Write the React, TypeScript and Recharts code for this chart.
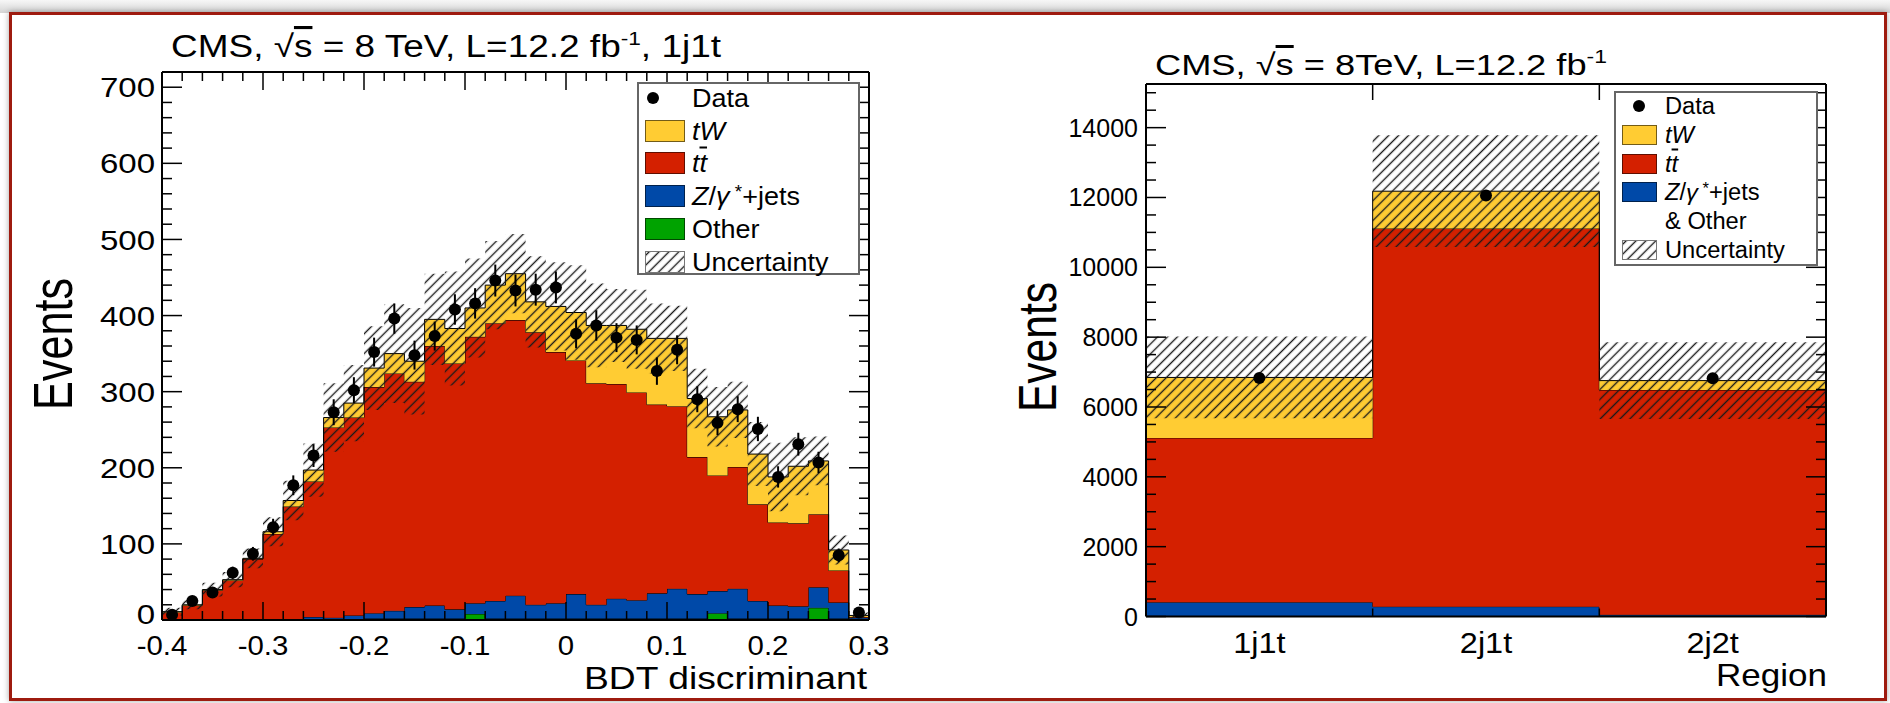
import React from "react";
import {
  ComposedChart,
  Area,
  Scatter,
  ErrorBar,
  XAxis,
  YAxis,
  Legend,
} from "recharts";

const FONT = "'Liberation Sans', Arial, Helvetica, sans-serif";

// BDT discriminant: 35 bins of width 0.02 (lower edges)
const bdtBinLow = [
  -0.4, -0.38, -0.36, -0.34, -0.32, -0.3, -0.28, -0.26, -0.24, -0.22, -0.2,
  -0.18, -0.16, -0.14, -0.12, -0.1, -0.08, -0.06, -0.04, -0.02, 0, 0.02, 0.04,
  0.06, 0.08, 0.1, 0.12, 0.14, 0.16, 0.18, 0.2, 0.22, 0.24, 0.26, 0.28,
];
const bdtBinWidth = 0.02;

// stacked MC, bottom to top
const bdtOther = [0, 0, 0, 0, 0, 0, 0, 1, 1, 1, 2, 2, 2, 2, 2, 8, 2, 2, 2, 2, 2, 2, 2, 2, 2, 2, 2, 9, 2, 2, 2, 2, 16, 2, 1];
const bdtZjets = [0, 0, 0, 0, 0, 0, 0, 3, 2, 5, 7, 10, 15, 17, 12, 14, 23, 30, 18, 20, 32, 18, 26, 24, 33, 39, 32, 29, 39, 23, 17, 16, 27, 21, 2];
const bdtTtbar = [10, 19, 39, 52, 80, 113, 149, 178, 250, 260, 297, 312, 296, 341, 323, 350, 365, 362, 358, 330, 307, 291, 282, 273, 248, 240, 180, 152, 160, 127, 109, 109, 96, 42, 1];
const bdtTW = [1, 1, 1, 1, 1, 3, 8, 15, 13, 19, 25, 26, 27, 35, 46, 38, 50, 61, 40, 60, 63, 76, 77, 83, 87, 89, 77, 77, 75, 66, 60, 75, 70, 27, 2];
// total uncertainty on the stack
const bdtSyst = [5, 6, 9, 10, 13, 19, 26, 35, 45, 50, 55, 65, 70, 60, 75, 65, 58, 52, 60, 58, 62, 55, 48, 52, 46, 43, 39, 39, 37, 42, 45, 38, 32, 19, 4];
// observed
const bdtData = [7, 25, 36, 62, 87, 122, 177, 216, 273, 302, 352, 396, 348, 373, 408, 416, 446, 433, 434, 437, 376, 387, 371, 368, 327, 355, 290, 259, 277, 251, 188, 231, 207, 85, 10];
const bdtDataErr = [3, 5, 6, 8, 9, 11, 13, 15, 17, 17, 19, 20, 19, 19, 20, 20, 21, 21, 21, 21, 19, 20, 19, 19, 18, 19, 17, 16, 17, 16, 14, 15, 14, 9, 3];

// yields per jet/tag region
const regions = ["1j1t", "2j1t", "2j2t"];
const regionZjetsOther = [410, 282, 50];
const regionTtbar = [4705, 10833, 6437];
const regionTW = [1731, 1065, 269];
const regionSyst = [1170, 1600, 1100];
const regionData = [6830, 12060, 6820];
const regionDataErr = [83, 110, 83];

const COLORS = {
  tw: "#ffcc33",
  tt: "#d42000",
  z: "#0049a8",
  other: "#00a300",
};

// ---- tables for the charts ----
const bdtRows = bdtBinLow.map((x, i) => {
  const total = bdtOther[i] + bdtZjets[i] + bdtTtbar[i] + bdtTW[i];
  return {
    x,
    other: bdtOther[i],
    z: bdtZjets[i],
    tt: bdtTtbar[i],
    tw: bdtTW[i],
    band: [total - bdtSyst[i], total + bdtSyst[i]],
  };
});
// closing edge so the last step is drawn
bdtRows.push({ ...bdtRows[bdtRows.length - 1], x: bdtBinLow[bdtBinLow.length - 1] + bdtBinWidth });

const bdtPoints = bdtBinLow.map((x, i) => ({
  x: x + bdtBinWidth / 2,
  y: bdtData[i],
  err: bdtDataErr[i],
}));

const regionRows = regions.map((_, i) => {
  const total = regionZjetsOther[i] + regionTtbar[i] + regionTW[i];
  return {
    x: i,
    z: regionZjetsOther[i],
    tt: regionTtbar[i],
    tw: regionTW[i],
    band: [total - regionSyst[i], total + regionSyst[i]],
  };
});
regionRows.push({ ...regionRows[regionRows.length - 1], x: regions.length });

const regionPoints = regions.map((_, i) => ({
  x: i + 0.5,
  y: regionData[i],
  err: regionDataErr[i],
}));

// axis tick positions
const bdtTicksX = Array.from({ length: 36 }, (_, k) => Math.round((-0.4 + 0.02 * k) * 100) / 100);
const bdtTicksY = Array.from({ length: 37 }, (_, k) => k * 20);
const regionTicksX = [0.5, 1, 1.5, 2, 2.5];
const regionTicksTop = [1, 2];
const regionTicksY = Array.from({ length: 31 }, (_, k) => k * 500);

const isTenth = (v: number) => Math.abs(v * 10 - Math.round(v * 10)) < 1e-6;
const fmtBdt = (v: number) => (Math.abs(v) < 1e-9 ? "0" : v.toFixed(1));

// ROOT style tick: drawn inward from the frame, label outside
function AxisTick(props: any) {
  const { x, y, payload, side, isMajor, majorLen, minorLen, format, gap = 8, fontSize = 27, stretch = 1, lift = 0 } = props;
  const v = payload.value;
  const major = isMajor(v);
  const len = major ? majorLen : minorLen;
  const text = format ? format(v, major) : null;
  let x2 = x;
  let y2 = y;
  if (side === "left") x2 = x + len;
  if (side === "right") x2 = x - len;
  if (side === "bottom") y2 = y - len;
  if (side === "top") y2 = y + len;
  const lx = side === "left" ? x - gap : x;
  // the label at the origin is lifted a little so it clears the x labels
  const ly = side === "left" ? y - (v === 0 ? lift : 0) : y + gap;
  return (
    <g>
      {len > 0 && <line x1={x} y1={y} x2={x2} y2={y2} stroke="#000" strokeWidth={1.5} />}
      {text != null && (
        <g transform={`translate(${lx},${ly}) scale(${stretch},1)`}>
          <text
            x={0}
            y={0}
            dy={side === "left" ? "0.36em" : 0}
            textAnchor={side === "left" ? "end" : "middle"}
            fontSize={fontSize}
            fontFamily={FONT}
            fill="#000"
          >
            {text}
          </text>
        </g>
      )}
    </g>
  );
}

const dotShape = (p: any) => <circle cx={p.cx} cy={p.cy} r={6} fill="#000" />;

function Hatch({ id }: { id: string }) {
  return (
    <pattern id={id} width={7} height={7} patternUnits="userSpaceOnUse" patternTransform="rotate(45)">
      <line x1={3.5} y1={0} x2={3.5} y2={7} stroke="#1a1a1a" strokeWidth={1.4} />
    </pattern>
  );
}

type Entry = { kind: "dot" | "fill" | "hatch" | "text"; color?: string; label: React.ReactNode };

function LegendPanel(props: {
  entries: Entry[];
  width: number;
  height: number;
  firstRow: number;
  rowStep: number;
  swatchX: number;
  swatchW: number;
  swatchH: number;
  dotX: number;
  textX: number;
  fontSize: number;
  stretch: number;
  hatchId: string;
}) {
  const { entries, width, height, firstRow, rowStep, swatchX, swatchW, swatchH, dotX, textX, fontSize, stretch, hatchId } = props;
  return (
    <div
      style={{
        position: "relative",
        width,
        height,
        boxSizing: "border-box",
        border: "2px solid #666",
        background: "#fff",
        fontFamily: FONT,
        fontSize,
        color: "#000",
      }}
    >
      {entries.map((e, i) => {
        const cy = firstRow + i * rowStep - 2;
        return (
          <React.Fragment key={i}>
            {e.kind === "dot" && (
              <div
                style={{
                  position: "absolute",
                  left: dotX - 8,
                  top: cy - 6,
                  width: 12,
                  height: 12,
                  borderRadius: "50%",
                  background: "#000",
                }}
              />
            )}
            {e.kind === "fill" && (
              <div
                style={{
                  position: "absolute",
                  left: swatchX - 2,
                  top: cy - swatchH / 2,
                  width: swatchW,
                  height: swatchH,
                  background: e.color,
                  border: "1px solid rgba(0,0,0,0.55)",
                  boxSizing: "border-box",
                }}
              />
            )}
            {e.kind === "hatch" && (
              <svg
                width={swatchW}
                height={swatchH}
                style={{ position: "absolute", left: swatchX - 2, top: cy - swatchH / 2 }}
              >
                <defs>
                  <Hatch id={hatchId} />
                </defs>
                <rect x={0.5} y={0.5} width={swatchW - 1} height={swatchH - 1} fill={`url(#${hatchId})`} stroke="#777" />
              </svg>
            )}
            <div
              style={{
                position: "absolute",
                left: textX - 2,
                top: cy,
                transform: `translateY(-50%) scaleX(${stretch})`,
                transformOrigin: "left center",
                lineHeight: 1,
                whiteSpace: "nowrap",
              }}
            >
              {e.label}
            </div>
          </React.Fragment>
        );
      })}
    </div>
  );
}

const ttLabel = (
  <>
    <i>t</i>
    <i style={{ textDecoration: "overline" }}>t</i>
  </>
);
const zLabel = (
  <>
    <i>Z</i>/<i>γ</i>
    <sup style={{ fontSize: "0.7em", verticalAlign: "0.4em" }}> *</sup>+jets
  </>
);

const bdtLegend: Entry[] = [
  { kind: "dot", label: "Data" },
  { kind: "fill", color: COLORS.tw, label: <i>tW</i> },
  { kind: "fill", color: COLORS.tt, label: ttLabel },
  { kind: "fill", color: COLORS.z, label: zLabel },
  { kind: "fill", color: COLORS.other, label: "Other" },
  { kind: "hatch", label: "Uncertainty" },
];

const regionLegend: Entry[] = [
  { kind: "dot", label: "Data" },
  { kind: "fill", color: COLORS.tw, label: <i>tW</i> },
  { kind: "fill", color: COLORS.tt, label: ttLabel },
  { kind: "fill", color: COLORS.z, label: zLabel },
  { kind: "text", label: "& Other" },
  { kind: "hatch", label: "Uncertainty" },
];

const frameLine = { stroke: "#000", strokeWidth: 2 };
const areaCommon = {
  type: "stepAfter" as const,
  stroke: "#000",
  strokeWidth: 1,
  fillOpacity: 1,
  dot: false,
  activeDot: false,
  isAnimationActive: false,
};

// axes take a little room (zero-sized axes are not drawn), margins compensate
function BdtPanel() {
  return (
    <ComposedChart width={945} height={703} data={bdtRows} margin={{ top: 71, left: 102, right: 75, bottom: 82 }}>
      <defs>
        <Hatch id="hatchBdt" />
      </defs>
      <XAxis
        type="number"
        dataKey="x"
        domain={[-0.4, 0.3]}
        allowDataOverflow
        ticks={bdtTicksX}
        interval={0}
        height={1}
        tickSize={0}
        tickMargin={0}
        tickLine={false}
        axisLine={frameLine}
        tick={
          <AxisTick
            side="bottom"
            isMajor={isTenth}
            majorLen={18}
            minorLen={9}
            gap={35}
            fontSize={28}
            stretch={1.05}
            format={(v: number, m: boolean) => (m ? fmtBdt(v) : null)}
          />
        }
      />
      <XAxis
        xAxisId="top"
        orientation="top"
        type="number"
        dataKey="x"
        domain={[-0.4, 0.3]}
        allowDataOverflow
        ticks={bdtTicksX}
        interval={0}
        height={1}
        tickSize={0}
        tickMargin={0}
        tickLine={false}
        axisLine={frameLine}
        tick={<AxisTick side="top" isMajor={isTenth} majorLen={18} minorLen={9} />}
      />
      <YAxis
        type="number"
        domain={[0, 720]}
        allowDataOverflow
        ticks={bdtTicksY}
        interval={0}
        width={60}
        tickSize={0}
        tickMargin={0}
        tickLine={false}
        axisLine={frameLine}
        tick={
          <AxisTick
            side="left"
            isMajor={(v: number) => v % 100 === 0}
            majorLen={20}
            minorLen={10}
            gap={7}
            fontSize={28}
            stretch={1.18}
            lift={6}
            format={(v: number, m: boolean) => (m ? String(v) : null)}
          />
        }
      />
      <YAxis
        yAxisId="right"
        orientation="right"
        type="number"
        domain={[0, 720]}
        allowDataOverflow
        ticks={bdtTicksY}
        interval={0}
        width={1}
        tickSize={0}
        tickMargin={0}
        tickLine={false}
        axisLine={frameLine}
        tick={<AxisTick side="right" isMajor={(v: number) => v % 100 === 0} majorLen={20} minorLen={10} />}
      />
      <Area {...areaCommon} dataKey="other" stackId="mc" fill={COLORS.other} />
      <Area {...areaCommon} dataKey="z" stackId="mc" fill={COLORS.z} />
      <Area {...areaCommon} dataKey="tt" stackId="mc" fill={COLORS.tt} />
      <Area {...areaCommon} dataKey="tw" stackId="mc" fill={COLORS.tw} />
      <Area {...areaCommon} dataKey="band" stroke="none" fill="url(#hatchBdt)" />
      <Scatter data={bdtPoints} dataKey="y" shape={dotShape} isAnimationActive={false}>
        <ErrorBar dataKey="err" direction="y" width={0} stroke="#000" strokeWidth={2} />
      </Scatter>
      <Legend
        layout="vertical"
        align="center"
        verticalAlign="middle"
        wrapperStyle={{ left: 637, top: 82, width: 223, height: 193 }}
        content={() => (
          <LegendPanel
            entries={bdtLegend}
            width={223}
            height={193}
            firstRow={16}
            rowStep={32.7}
            swatchX={8}
            swatchW={40}
            swatchH={22}
            dotX={16}
            textX={55}
            fontSize={25}
            stretch={1.08}
            hatchId="hatchBdtKey"
          />
        )}
      />
      <text x={171} y={57} fontSize={31} fontFamily={FONT} fill="#000" textLength={550} lengthAdjust="spacingAndGlyphs">
        CMS, √<tspan textDecoration="overline">s</tspan> = 8 TeV, L=12.2 fb
        <tspan dy={-12} fontSize={19}>-1</tspan>
        <tspan dy={12}>, 1j1t</tspan>
      </text>
      <text
        transform="translate(72,344) rotate(-90)"
        textAnchor="middle"
        fontSize={56}
        fontFamily={FONT}
        fill="#000"
        textLength={132}
        lengthAdjust="spacingAndGlyphs"
      >
        Events
      </text>
      <text x={867} y={689} textAnchor="end" fontSize={32} fontFamily={FONT} fill="#000" textLength={283} lengthAdjust="spacingAndGlyphs">
        BDT discriminant
      </text>
    </ComposedChart>
  );
}

function RegionPanel() {
  return (
    <ComposedChart width={945} height={703} data={regionRows} margin={{ top: 83, left: 141, right: 63, bottom: 85.5 }}>
      <defs>
        <Hatch id="hatchRegion" />
      </defs>
      <XAxis
        type="number"
        dataKey="x"
        domain={[0, 3]}
        allowDataOverflow
        ticks={regionTicksX}
        interval={0}
        height={1}
        tickSize={0}
        tickMargin={0}
        tickLine={false}
        axisLine={frameLine}
        tick={
          <AxisTick
            side="bottom"
            isMajor={(v: number) => Number.isInteger(v)}
            majorLen={8}
            minorLen={0}
            gap={36}
            fontSize={29}
            stretch={1.12}
            format={(v: number, m: boolean) => (m ? null : regions[Math.floor(v)])}
          />
        }
      />
      <XAxis
        xAxisId="top"
        orientation="top"
        type="number"
        dataKey="x"
        domain={[0, 3]}
        allowDataOverflow
        ticks={regionTicksTop}
        interval={0}
        height={1}
        tickSize={0}
        tickMargin={0}
        tickLine={false}
        axisLine={frameLine}
        tick={<AxisTick side="top" isMajor={() => true} majorLen={16} minorLen={0} />}
      />
      <YAxis
        type="number"
        domain={[0, 15250]}
        allowDataOverflow
        ticks={regionTicksY}
        interval={0}
        width={60}
        tickSize={0}
        tickMargin={0}
        tickLine={false}
        axisLine={frameLine}
        tick={
          <AxisTick
            side="left"
            isMajor={(v: number) => v % 2000 === 0}
            majorLen={20}
            minorLen={10}
            gap={8}
            fontSize={25}
            format={(v: number, m: boolean) => (m ? String(v) : null)}
          />
        }
      />
      <YAxis
        yAxisId="right"
        orientation="right"
        type="number"
        domain={[0, 15250]}
        allowDataOverflow
        ticks={regionTicksY}
        interval={0}
        width={1}
        tickSize={0}
        tickMargin={0}
        tickLine={false}
        axisLine={frameLine}
        tick={<AxisTick side="right" isMajor={(v: number) => v % 2000 === 0} majorLen={20} minorLen={10} />}
      />
      <Area {...areaCommon} dataKey="z" stackId="mc" fill={COLORS.z} />
      <Area {...areaCommon} dataKey="tt" stackId="mc" fill={COLORS.tt} />
      <Area {...areaCommon} dataKey="tw" stackId="mc" fill={COLORS.tw} />
      <Area {...areaCommon} dataKey="band" stroke="none" fill="url(#hatchRegion)" />
      <Scatter data={regionPoints} dataKey="y" shape={dotShape} isAnimationActive={false}>
        <ErrorBar dataKey="err" direction="y" width={0} stroke="#000" strokeWidth={2} />
      </Scatter>
      <Legend
        layout="vertical"
        align="center"
        verticalAlign="middle"
        wrapperStyle={{ left: 669, top: 91, width: 204, height: 175 }}
        content={() => (
          <LegendPanel
            entries={regionLegend}
            width={204}
            height={175}
            firstRow={15}
            rowStep={28.8}
            swatchX={8}
            swatchW={35}
            swatchH={20}
            dotX={25}
            textX={51}
            fontSize={23}
            stretch={1.03}
            hatchId="hatchRegionKey"
          />
        )}
      />
      <text x={210} y={75} fontSize={30} fontFamily={FONT} fill="#000" textLength={452} lengthAdjust="spacingAndGlyphs">
        CMS, √<tspan textDecoration="overline">s</tspan> = 8TeV, L=12.2 fb
        <tspan dy={-12} fontSize={19}>-1</tspan>
      </text>
      <text
        transform="translate(111,347) rotate(-90)"
        textAnchor="middle"
        fontSize={54}
        fontFamily={FONT}
        fill="#000"
        textLength={130}
        lengthAdjust="spacingAndGlyphs"
      >
        Events
      </text>
      <text x={882} y={686} textAnchor="end" fontSize={32} fontFamily={FONT} fill="#000" textLength={111} lengthAdjust="spacingAndGlyphs">
        Region
      </text>
    </ComposedChart>
  );
}

export default function App() {
  return (
    <div
      style={{
        position: "absolute",
        left: 0,
        top: 0,
        width: 1890,
        height: 703,
        background: "#fff",
        overflow: "hidden",
      }}
    >
      <div
        style={{
          position: "absolute",
          left: 0,
          top: 0,
          width: 1890,
          height: 13,
          background: "linear-gradient(#f7f7f7, #d4d4d4)",
        }}
      />
      <div
        style={{
          position: "absolute",
          left: 9,
          top: 12,
          width: 1878,
          height: 689,
          border: "3px solid #9e1b0f",
          boxSizing: "border-box",
          boxShadow: "0 0 6px rgba(0,0,0,0.35)",
        }}
      />
      <div style={{ position: "absolute", left: 0, top: 0 }}>
        <BdtPanel />
      </div>
      <div style={{ position: "absolute", left: 945, top: 0 }}>
        <RegionPanel />
      </div>
    </div>
  );
}
